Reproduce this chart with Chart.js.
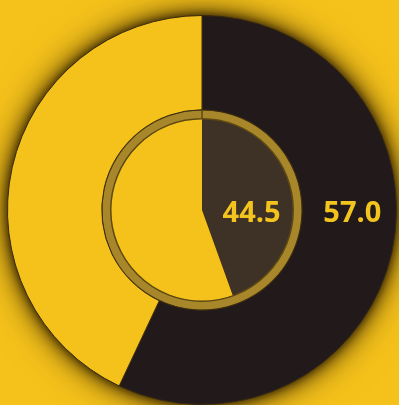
<!DOCTYPE html>
<html>
<head>
<meta charset="utf-8">
<script src="https://cdn.jsdelivr.net/npm/chart.js@4/dist/chart.umd.min.js"></script>
<style>
  html, body { margin: 0; padding: 0; background: #f5c21b; overflow: hidden; }
  #wrap { width: 399px; height: 405px; }
  #ringChart { filter: drop-shadow(0 0 4px rgba(50, 34, 0, 0.9)) drop-shadow(0 0 10px rgba(60, 40, 0, 0.8)) drop-shadow(0 0 16px rgba(80, 55, 0, 0.5)); }
</style>
</head>
<body>
<div id="wrap"><canvas id="ringChart" width="399" height="405"></canvas></div>
<script>
// Data
const ringNames = ['Outer ring', 'Inner disc'];
const outerValues = [57.0, 43.0];
const innerValues = [44.5, 55.5];
const labelValues = ['57.0', '44.5'];

const yellow = '#f5c21b';

// draw the value labels at 3 o'clock, middle of each ring
const valueLabels = {
    id: 'valueLabels',
    afterDatasetsDraw(chart) {
        const ctx = chart.ctx;
        const rings = [0, 2];
        ctx.save();
        ctx.font = 'bold 29px "Open Sans", sans-serif';
        ctx.fillStyle = '#f4c41e';
        ctx.textAlign = 'center';
        ctx.textBaseline = 'middle';
        rings.forEach(function (dsIndex, i) {
            const arc = chart.getDatasetMeta(dsIndex).data[0];
            const r = (arc.innerRadius + arc.outerRadius) / 2;
            ctx.fillText(labelValues[i], arc.x + r + (i === 0 ? 3 : 4), arc.y + 4);
        });
        ctx.restore();
    }
};

const ringCtx = document.getElementById('ringChart').getContext('2d');
const ringChart = new Chart(ringCtx, {
    type: 'doughnut',
    data: {
        labels: ['Dark', 'Light'],
        datasets: [{
            label: ringNames[0],
            data: outerValues,
            backgroundColor: ['#221a1a', yellow],
            borderColor: '#3a2a12',
            borderWidth: 1,
            weight: 94
        }, {
            label: 'rim',
            data: [100],
            backgroundColor: ['#a8862a'],
            borderColor: '#5e4912',
            borderWidth: 1.5,
            weight: 9
        }, {
            label: ringNames[1],
            data: innerValues,
            backgroundColor: ['#3e3227', yellow],
            borderWidth: 0,
            weight: 91
        }]
    },
    plugins: [valueLabels],
    options: {
        responsive: false,
        animation: false,
        cutout: 0,
        layout: { padding: { left: 7, right: 2, top: 15, bottom: 0 } },
        plugins: {
            legend: { display: false },
            tooltip: { enabled: false }
        },
        elements: { arc: { hoverOffset: 0, offset: 0 } }
    }
});
</script>
</body>
</html>
